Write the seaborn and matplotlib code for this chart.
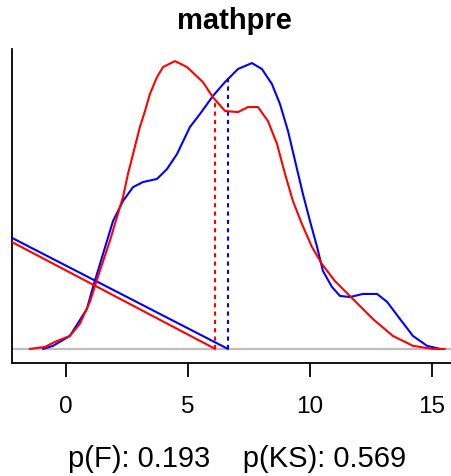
import numpy as np
import pandas as pd
import matplotlib
matplotlib.use("Agg")
import matplotlib.pyplot as plt
import seaborn as sns

sns.set_style("white")
plt.rcParams['font.family'] = ['Liberation Sans', 'DejaVu Sans']

title = "mathpre"

# Density curves (x, density)
blue_x = [-0.94, -0.53, 0.16, 0.86, 1.11, 1.52, 1.93, 2.34, 2.75, 3.16, 3.73, 4.14,
          4.55, 5.08, 5.49, 6.02, 6.52, 7.05, 7.62, 8.03, 8.44, 8.77, 9.10, 9.39,
          9.71, 10.00, 10.29, 10.53, 10.90, 11.23, 11.64, 12.17, 12.75, 13.16,
          13.69, 14.22, 14.80, 15.33]
blue_y = [0.0, 0.0014, 0.0059, 0.0182, 0.0282, 0.0432, 0.0582, 0.0673, 0.0736,
          0.0759, 0.0773, 0.0818, 0.0886, 0.1009, 0.1068, 0.1150, 0.1214, 0.1273,
          0.1300, 0.1273, 0.1205, 0.1114, 0.0991, 0.0855, 0.0705, 0.0582, 0.0464,
          0.0355, 0.0282, 0.0241, 0.0236, 0.0250, 0.0250, 0.0214, 0.0136, 0.0059,
          0.0014, 0.0]

red_x = [-1.48, -0.86, -0.45, 0.16, 0.57, 0.98, 1.39, 1.80, 2.13, 2.34, 2.54, 2.75,
         3.03, 3.24, 3.44, 3.73, 3.98, 4.47, 4.96, 5.61, 6.02, 6.52, 7.05, 7.46,
         7.87, 8.28, 8.65, 8.98, 9.30, 9.67, 10.08, 10.49, 11.02, 11.76, 12.58,
         13.40, 14.22, 15.04, 15.53]
red_y = [0.0, 0.0009, 0.0032, 0.0059, 0.0114, 0.0214, 0.0355, 0.0491, 0.0614,
         0.0691, 0.0795, 0.0886, 0.1009, 0.1082, 0.1159, 0.1236, 0.1282, 0.1309,
         0.1282, 0.1214, 0.1145, 0.1082, 0.1077, 0.1100, 0.1100, 0.1036, 0.0932,
         0.0795, 0.0673, 0.0568, 0.0464, 0.0386, 0.0309, 0.0227, 0.0136, 0.0059,
         0.0014, 0.0, 0.0]

# Means and the heights of their dashed markers
blue_mean, red_mean = 6.64, 6.12
blue_mean_h, red_mean_h = 0.1236, 0.1136

# Diagonal lines: start at left edge, end at mean on baseline
diag_left_x = -2.21
blue_diag_left_h, red_diag_left_h = 0.0505, 0.0486

p_f, p_ks = "0.193", "0.569"
xticks = [0, 5, 10, 15]

BLUE, RED = "#0000ff", "#ff0000"

fig = plt.figure(figsize=(4.52, 4.77), dpi=100)
ax = fig.add_axes([12/452, (477-364)/477, 440/452, (364-50)/477])

xmin, xmax = -2.21, 15.82
ax.set_xlim(xmin, xmax)
ax.set_ylim(-0.0064, 0.1364)

# baseline
ax.axhline(0, color="#bebebe", lw=1.6, zorder=1)

df_b = pd.DataFrame({"x": blue_x, "y": blue_y})
df_r = pd.DataFrame({"x": red_x, "y": red_y})
sns.lineplot(data=df_b, x="x", y="y", color=BLUE, lw=1.5, sort=False, estimator=None, ax=ax, zorder=3)
sns.lineplot(data=df_r, x="x", y="y", color=RED, lw=1.5, sort=False, estimator=None, ax=ax, zorder=4)

# diagonal lines
sns.lineplot(x=[diag_left_x, blue_mean], y=[blue_diag_left_h, 0], color=BLUE, lw=1.5, ax=ax, zorder=3)
sns.lineplot(x=[diag_left_x, red_mean], y=[red_diag_left_h, 0], color=RED, lw=1.5, ax=ax, zorder=4)

# dashed mean lines
ax.plot([red_mean, red_mean], [0, red_mean_h], color=RED, lw=1.5, ls=(0, (2, 2)), zorder=4)
ax.plot([blue_mean, blue_mean], [0, blue_mean_h], color=BLUE, lw=1.5, ls=(0, (2, 2)), zorder=3)

ax.set_xticks(xticks)
ax.set_xticklabels([str(t) for t in xticks], fontsize=17.5)
ax.set_yticks([])
ax.tick_params(axis="x", bottom=True, length=10, width=1.3, color="black",
               pad=13, direction="out", labelcolor="black")
ax.set_xlabel("")
ax.set_ylabel("")
for s in ["top", "right"]:
    ax.spines[s].set_visible(False)
for s in ["left", "bottom"]:
    ax.spines[s].set_color("black")
    ax.spines[s].set_linewidth(1.3)

fig.text(234/452, 1 - 21/477, title, ha="center", va="center", fontsize=21,
         fontweight="bold", color="black")
fig.text(237/452, 1 - 459/477, f"p(F): {p_f}    p(KS): {p_ks}", ha="center",
         va="center", fontsize=21, color="black")

fig.savefig("out.png", dpi=100)
